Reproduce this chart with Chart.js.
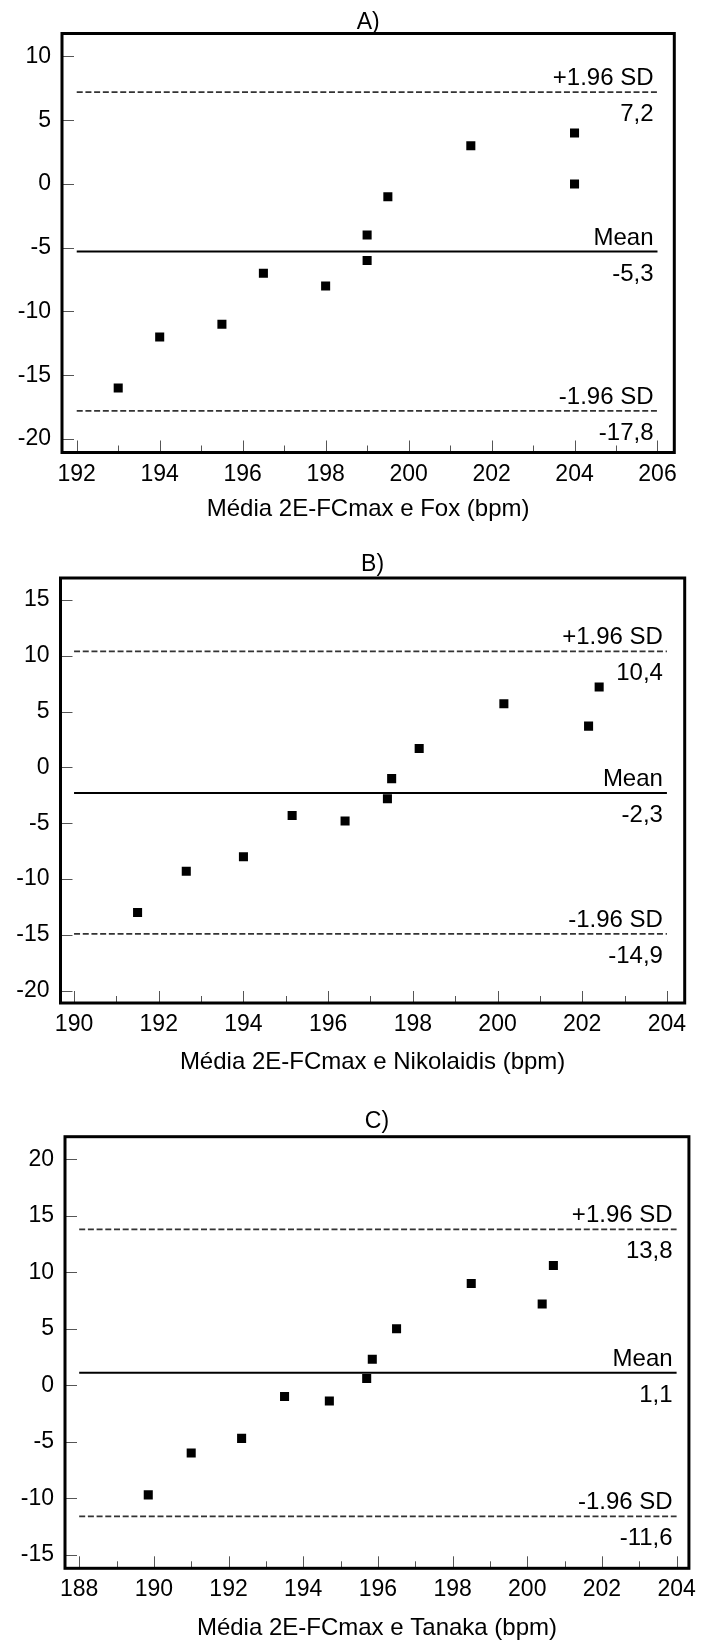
<!DOCTYPE html>
<html>
<head>
<meta charset="utf-8">
<script src="https://cdn.jsdelivr.net/npm/chart.js@4.4.1/dist/chart.umd.min.js"></script>
<style>
html, body { margin: 0; padding: 0; background: #fff; }
canvas { position: absolute; left: 0; }
</style>
</head>
<body>
<canvas id="chartA"></canvas>
<canvas id="chartB"></canvas>
<canvas id="chartC"></canvas>
<script>
// A) 2E-FCmax x Fox
const foxMean = [193, 194, 195.5, 196.5, 198, 199, 199, 199.5, 201.5, 204, 204];
const foxDiff = [-16, -12, -11, -7, -8, -4, -6, -1, 3, 4, 0];
const foxLimits = [7.2, -5.3, -17.8];   // +1.96 SD, mean, -1.96 SD
const foxXTicks = [192, 194, 196, 198, 200, 202, 204, 206];
const foxYTicks = [10, 5, 0, -5, -10, -15, -20];

// B) 2E-FCmax x Nikolaidis
const nikMean = [191.5, 192.65, 194.0, 195.15, 196.4, 197.4, 197.5, 198.15, 200.15, 202.15, 202.4];
const nikDiff = [-13.0, -9.3, -8.0, -4.3, -4.8, -2.8, -1.0, 1.7, 5.7, 3.7, 7.2];
const nikLimits = [10.4, -2.3, -14.9];
const nikXTicks = [190, 192, 194, 196, 198, 200, 202, 204];
const nikYTicks = [15, 10, 5, 0, -5, -10, -15, -20];

// C) 2E-FCmax x Tanaka
const tanMean = [189.85, 191.0, 192.35, 193.5, 194.7, 195.7, 195.85, 196.5, 198.5, 200.4, 200.7];
const tanDiff = [-9.7, -6.0, -4.7, -1.0, -1.4, 0.6, 2.3, 5.0, 9.0, 7.2, 10.6];
const tanLimits = [13.8, 1.1, -11.6];
const tanXTicks = [188, 190, 192, 194, 196, 198, 200, 202, 204];
const tanYTicks = [20, 15, 10, 5, 0, -5, -10, -15];

const limitNames = ['+1.96 SD', 'Mean', '-1.96 SD'];

const panels = [
  { id: 'chartA', title: 'A)', xLabel: 'Média 2E-FCmax e Fox (bpm)',
    x: foxMean, y: foxDiff, limits: foxLimits, xTicks: foxXTicks, yTicks: foxYTicks,
    xRange: [191.645, 206.405], yRange: [-21.06, 11.8],
    top: 0, height: 535, frame: { l: 62, r: 674.3, t: 33.5, b: 452.5 }, titleY: 23, xTitleGap: 57 },
  { id: 'chartB', title: 'B)', xLabel: 'Média 2E-FCmax e Nikolaidis (bpm)',
    x: nikMean, y: nikDiff, limits: nikLimits, xTicks: nikXTicks, yTicks: nikYTicks,
    xRange: [189.68, 204.42], yRange: [-21.1, 16.97],
    top: 535, height: 550, frame: { l: 60.5, r: 684.7, t: 578, b: 1003 }, titleY: 565, xTitleGap: 59 },
  { id: 'chartC', title: 'C)', xLabel: 'Média 2E-FCmax e Tanaka (bpm)',
    x: tanMean, y: tanDiff, limits: tanLimits, xTicks: tanXTicks, yTicks: tanYTicks,
    xRange: [187.62, 204.33], yRange: [-16.2, 22.0],
    top: 1085, height: 558, frame: { l: 65, r: 693.3, t: 1136.7, b: 1568.3 }, titleY: 1122, xTitleGap: 60 }
];

const FONT = '"Liberation Sans", Arial, sans-serif';
const INK = '#000';
const XTITLE_LH = 28.8;

// panel title, inner tick marks, frame and the limit labels
const blandAltman = {
  id: 'blandAltman',
  beforeDatasetsDraw(chart) {
    const { ctx, chartArea: a, scales: { x, y } } = chart;
    ctx.save();
    ctx.strokeStyle = '#555';
    ctx.lineWidth = 1;
    const seg = (x1, y1, x2, y2) => { ctx.beginPath(); ctx.moveTo(x1, y1); ctx.lineTo(x2, y2); ctx.stroke(); };
    x.ticks.forEach((t, i) => {
      const px = Math.round(x.getPixelForValue(t.value)) + 0.5;
      seg(px, a.bottom, px, a.bottom - 12);
      if (i < x.ticks.length - 1) {
        const mx = Math.round(x.getPixelForValue((t.value + x.ticks[i + 1].value) / 2)) + 0.5;
        seg(mx, a.bottom, mx, a.bottom - 7);
      }
    });
    y.ticks.forEach(t => {
      const py = Math.round(y.getPixelForValue(t.value)) + 0.5;
      seg(a.left, py, a.left + 12, py);
    });
    ctx.restore();
  },
  afterDatasetsDraw(chart, args, opts) {
    const { ctx, chartArea: a } = chart;
    ctx.save();
    ctx.strokeStyle = '#000';
    ctx.lineWidth = 3;
    ctx.strokeRect(a.left, a.top, a.right - a.left, a.bottom - a.top);
    ctx.fillStyle = INK;
    ctx.font = '23px ' + FONT;
    ctx.textAlign = 'center';
    ctx.textBaseline = 'middle';
    ctx.fillText(opts.title, (a.left + a.right) / 2, opts.titleY);
    ctx.font = '24px ' + FONT;
    ctx.textAlign = 'right';
    ctx.textBaseline = 'alphabetic';
    chart.data.datasets.forEach((ds, i) => {
      if (!ds.limitName) return;
      const pts = chart.getDatasetMeta(i).data;
      const end = pts[pts.length - 1];
      ctx.fillText(ds.limitName, end.x - 4, end.y - 7);
      ctx.fillText(ds.limitValue.toFixed(1).replace('.', ','), end.x - 4, end.y + 29);
    });
    ctx.restore();
  }
};

panels.forEach(p => {
  const cv = document.getElementById(p.id);
  cv.width = 704;
  cv.height = p.height;
  cv.style.top = p.top + 'px';
  cv.style.width = '704px';
  cv.style.height = p.height + 'px';

  const f = { l: p.frame.l, r: p.frame.r, t: p.frame.t - p.top, b: p.frame.b - p.top };
  const xAxisH = p.xTitleGap + XTITLE_LH / 2;
  const padBottom = p.height - f.b - xAxisH;
  const yAxisW = f.l - 2;

  const x0 = p.xTicks[0], x1 = p.xTicks[p.xTicks.length - 1];
  const limitSets = p.limits.map((v, i) => ({
    type: 'line',
    data: [{ x: x0, y: v }, { x: x1, y: v }],
    borderColor: i === 1 ? '#000' : '#333',
    borderWidth: i === 1 ? 2 : 1.8,
    borderDash: i === 1 ? [] : [6, 2.7],
    pointRadius: 0,
    limitName: limitNames[i],
    limitValue: v,
    order: 2
  }));

  new Chart(cv, {
    type: 'scatter',
    data: {
      datasets: [{
        data: p.x.map((v, i) => ({ x: v, y: p.y[i] })),
        pointStyle: 'rect',
        pointRadius: 6.4,
        borderWidth: 0,
        backgroundColor: '#000',
        order: 1
      }].concat(limitSets)
    },
    options: {
      responsive: false,
      animation: false,
      devicePixelRatio: 1,
      layout: { padding: { left: f.l - yAxisW, right: 704 - f.r, top: f.t, bottom: padBottom } },
      plugins: {
        legend: { display: false },
        tooltip: { enabled: false },
        blandAltman: { title: p.title, titleY: p.titleY - p.top }
      },
      scales: {
        x: {
          type: 'linear',
          min: p.xRange[0],
          max: p.xRange[1],
          grid: { display: false, drawTicks: false },
          border: { display: false },
          afterBuildTicks: s => { s.ticks = p.xTicks.map(v => ({ value: v })); },
          afterFit: s => { s.height = xAxisH; },
          ticks: { padding: 8, color: INK, font: { family: FONT, size: 23 }, maxRotation: 0, callback: v => String(v) },
          title: { display: true, text: p.xLabel, color: INK, font: { family: FONT, size: 24, lineHeight: 1.2 }, padding: 0 }
        },
        y: {
          type: 'linear',
          min: p.yRange[0],
          max: p.yRange[1],
          grid: { display: false, drawTicks: false },
          border: { display: false },
          afterBuildTicks: s => { s.ticks = p.yTicks.map(v => ({ value: v })); },
          afterFit: s => { s.width = yAxisW; },
          ticks: { padding: 11, color: INK, font: { family: FONT, size: 23 }, callback: v => String(v) }
        }
      }
    },
    plugins: [blandAltman]
  });
});
</script>
</body>
</html>
